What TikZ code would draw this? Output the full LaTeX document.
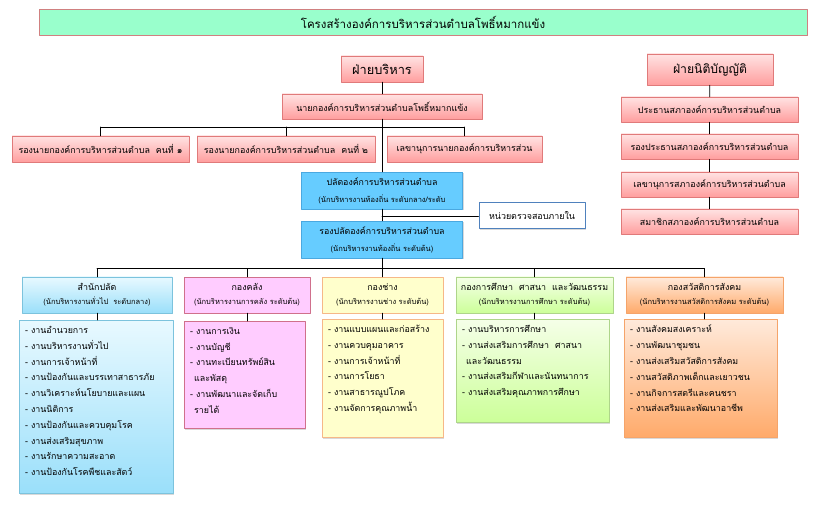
\documentclass[tikz,border=0pt]{standalone}
\usepackage{fontspec}
\newfontfamily\thaifont[Script=Thai]{Loma}
\usetikzlibrary{shadows}
\definecolor{titlefill}{HTML}{99FFCC}
\definecolor{titleline}{HTML}{D08080}
\definecolor{redtop}{HTML}{FFE3E3}
\definecolor{redbot}{HTML}{FF9E9E}
\definecolor{redline}{HTML}{E07A7A}
\definecolor{clerkfill}{HTML}{66CCFF}
\definecolor{clerkline}{HTML}{4AA8E0}
\definecolor{auditline}{HTML}{4F81BD}
\definecolor{cyantop}{HTML}{E8F9FF}
\definecolor{cyanbot}{HTML}{9ADFFA}
\definecolor{cyanline}{HTML}{7CC3DD}
\definecolor{pinkfill}{HTML}{FFCCFF}
\definecolor{pinkline}{HTML}{D0708C}
\definecolor{yellowfill}{HTML}{FFFFCC}
\definecolor{yellowline}{HTML}{F6B888}
\definecolor{greentop}{HTML}{F5FFE8}
\definecolor{greenbot}{HTML}{CCFF99}
\definecolor{greenline}{HTML}{AED58A}
\definecolor{orangetop}{HTML}{FFEADB}
\definecolor{orangebot}{HTML}{FFAA6A}
\definecolor{orangeline}{HTML}{F5A46A}
\newcommand{\jobtext}[3]{\parbox[c][#1pt][t]{#2pt}{\raggedright #3}}
\newcommand{\subline}[1]{{\fontsize{7.5}{9}\selectfont #1}}

\begin{document}
\begin{tikzpicture}[x=1pt,y=-1pt,line cap=round,line join=round,
  orgbox/.style={draw,rectangle,align=center,inner sep=1pt,font=\thaifont\fontsize{8.9}{14}\selectfont,
    drop shadow={shadow xshift=1.2pt,shadow yshift=-1.5pt,opacity=0.3}},
  boxsize/.style 2 args={minimum width=#1pt,minimum height=#2pt},
  redbox/.style={orgbox,draw=redline,top color=redtop,bottom color=redbot},
  clerkbox/.style={orgbox,draw=clerkline,fill=clerkfill,font=\thaifont\fontsize{8.8}{17}\selectfont},
  auditbox/.style={orgbox,draw=auditline,line width=1pt,fill=white},
  cyanbox/.style={orgbox,draw=cyanline,top color=cyantop,bottom color=cyanbot},
  pinkbox/.style={orgbox,draw=pinkline,fill=pinkfill},
  yellowbox/.style={orgbox,draw=yellowline,fill=yellowfill},
  greenbox/.style={orgbox,draw=greenline,top color=greentop,bottom color=greenbot},
  orangebox/.style={orgbox,draw=orangeline,top color=orangetop,bottom color=orangebot},
  jobbox/.style={anchor=north west,inner xsep=6pt,inner ysep=6pt,font=\thaifont\fontsize{8.85}{15.8}\selectfont},
  link/.style={line width=0.8pt}]
\useasboundingbox (0,0) rectangle (820,505);

\node[orgbox,fill=titlefill,draw=titleline,boxsize={768}{26},font=\thaifont\fontsize{11.5}{14}\selectfont] (title) at (423,22) {โครงสร้างองค์การบริหารส่วนตำบลโพธิ์หมากแข้ง};

\node[redbox,boxsize={82}{26},font=\thaifont\fontsize{12.8}{14}\selectfont] (exec) at (382,69) {ฝ่ายบริหาร};
\node[redbox,boxsize={200}{25}] (mayor) at (382,106.5) {นายกองค์การบริหารส่วนตำบลโพธิ์หมากแข้ง};
\node[redbox,boxsize={177}{26}] (dep1) at (100.5,149) {รองนายกองค์การบริหารส่วนตำบล~ คนที่ ๑};
\node[redbox,boxsize={178}{26}] (dep2) at (286,149) {รองนายกองค์การบริหารส่วนตำบล~ คนที่ ๒};
\node[redbox,boxsize={155}{26}] (sec) at (464.5,149) {เลขานุการนายกองค์การบริหารส่วน};
\node[clerkbox,boxsize={161}{37}] (clerk) at (382,190.5) {ปลัดองค์การบริหารส่วนตำบล\\\subline{(นักบริหารงานท้องถิ่น ระดับกลาง/ระดับ}};
\node[clerkbox,boxsize={161}{37}] (dclerk) at (382,239.5) {รองปลัดองค์การบริหารส่วนตำบล\\\subline{(นักบริหารงานท้องถิ่น ระดับต้น)}};
\node[auditbox,boxsize={106}{26}] (audit) at (532,216) {หน่วยตรวจสอบภายใน};

\node[redbox,boxsize={126}{31},font=\thaifont\fontsize{12.2}{14}\selectfont] (legis) at (710,69.5) {ฝ่ายนิติบัญญัติ};
\node[redbox,boxsize={177}{25}] (chair) at (709.5,109.5) {ประธานสภาองค์การบริหารส่วนตำบล};
\node[redbox,boxsize={177}{25}] (vice) at (709.5,146.5) {รองประธานสภาองค์การบริหารส่วนตำบล};
\node[redbox,boxsize={177}{25}] (csec) at (709.5,184.5) {เลขานุการสภาองค์การบริหารส่วนตำบล};
\node[redbox,boxsize={177}{25}] (member) at (709.5,221.5) {สมาชิกสภาองค์การบริหารส่วนตำบล};

\node[cyanbox,boxsize={150}{36}] (h1) at (97,295) {สำนักปลัด\\\subline{(นักบริหารงานทั่วไป~ ระดับกลาง)}};
\node[pinkbox,boxsize={126}{36}] (h2) at (247,295) {กองคลัง\\\subline{(นักบริหารงานการคลัง ระดับต้น)}};
\node[yellowbox,boxsize={121}{36}] (h3) at (382.5,295) {กองช่าง\\\subline{(นักบริหารงานช่าง ระดับต้น)}};
\node[greenbox,boxsize={157}{36}] (h4) at (534.5,295) {กองการศึกษา~ ศาสนา~ และวัฒนธรรม\\\subline{(นักบริหารงานการศึกษา ระดับต้น)}};
\node[orangebox,boxsize={157}{36}] (h5) at (704.5,295) {กองสวัสดิการสังคม\\\subline{(นักบริหารงานสวัสดิการสังคม ระดับต้น)}};

\node[cyanbox,jobbox] (l1) at (19,320) {\jobtext{161}{142}{- งานอำนวยการ\\- งานบริหารงานทั่วไป\\- งานการเจ้าหน้าที่\\- งานป้องกันและบรรเทาสาธารภัย\\- งานวิเคราะห์นโยบายและแผน\\- งานนิติการ\\- งานป้องกันและควบคุมโรค\\- งานส่งเสริมสุขภาพ\\- งานรักษาความสะอาด\\- งานป้องกันโรคพืชและสัตว์}};
\node[pinkbox,jobbox] (l2) at (184,321) {\jobtext{95}{109}{- งานการเงิน\\- งานบัญชี\\- งานทะเบียนทรัพย์สิน\\\hspace*{4pt}และพัสดุ\\- งานพัฒนาและจัดเก็บ\\\hspace*{4pt}รายได้}};
\node[yellowbox,jobbox] (l3) at (322,319) {\jobtext{106}{109}{- งานแบบแผนและก่อสร้าง\\- งานควบคุมอาคาร\\- งานการเจ้าหน้าที่\\- งานการโยธา\\- งานสาธารณูปโภค\\- งานจัดการคุณภาพน้ำ}};
\node[greenbox,jobbox] (l4) at (456,319) {\jobtext{91}{141}{- งานบริหารการศึกษา\\- งานส่งเสริมการศึกษา~ ศาสนา\\\hspace*{4pt}และวัฒนธรรม\\- งานส่งเสริมกีฬาและนันทนาการ\\- งานส่งเสริมคุณภาพการศึกษา}};
\node[orangebox,jobbox] (l5) at (624,319) {\jobtext{106}{141}{- งานสังคมสงเคราะห์\\- งานพัฒนาชุมชน\\- งานส่งเสริมสวัสดิการสังคม\\- งานสวัสดิภาพเด็กและเยาวชน\\- งานกิจการสตรีและคนชรา\\- งานส่งเสริมและพัฒนาอาชีพ}};

\coordinate (topbar) at (382,127);
\coordinate (lowbar) at (382,268.5);
\draw[link] (exec) -- (mayor);
\draw[link] (mayor) -- (clerk);
\draw[link] (topbar -| dep1) -- (topbar -| sec);
\foreach \n in {dep1,dep2,sec}
  \draw[link] (topbar -| \n) -- (\n.north);
\draw[link] (clerk) -- (dclerk);
\draw[link] (audit.west) -- (audit.west -| clerk.south);
\draw[link] (dclerk) -- (lowbar);
\draw[link] (lowbar -| h1) -- (lowbar -| h5);
\foreach \n/\m in {h1/l1,h2/l2,h3/l3,h4/l4,h5/l5} {
  \draw[link] (lowbar -| \n) -- (\n.north);
  \draw[link] (\n.south) -- (\n.south |- \m.north);
}
\draw[link] (legis) -- (chair) -- (vice) -- (csec) -- (member);
\end{tikzpicture}
\end{document}
